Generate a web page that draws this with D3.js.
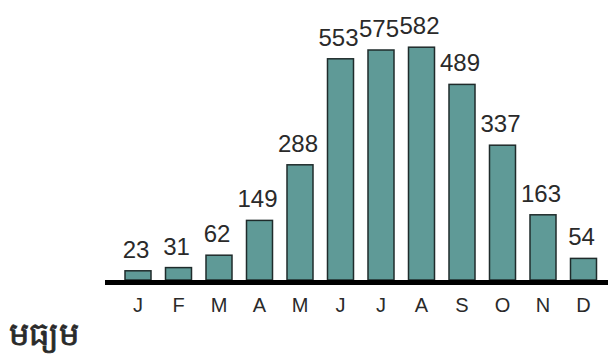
<!DOCTYPE html>
<html>
<head>
<meta charset="utf-8">
<script src="https://cdn.jsdelivr.net/npm/d3@7"></script>
<style>
  html,body{margin:0;padding:0;background:#fff;}
  svg{display:block;}
</style>
</head>
<body>
<div id="chart"></div>
<script>
(function(){
'use strict';

const months=['J','F','M','A','M','J','J','A','S','O','N','D'];
const rainfall=[23,31,62,149,288,553,575,582,489,337,163,54];
const caption='មធ្យម';

const W=608,H=358;
const BAR_FILL='#5f9a97',BAR_STROKE='#1f2b2b',TEXT='#2a2a2a';

const svg=d3.select('#chart').append('svg')
  .attr('width',W).attr('height',H);

const keys=months.map((m,i)=>i);
const x=d3.scaleBand().domain(keys).range([125,596.5])
  .paddingInner(0.358).paddingOuter(0);
const y=d3.scaleLinear().domain([0,600]).range([280,40]);

// Bars
svg.selectAll('.bar').data(rainfall).enter().append('rect')
  .attr('x',(d,i)=>x(i))
  .attr('y',d=>y(d))
  .attr('width',x.bandwidth())
  .attr('height',d=>y(0)-y(d))
  .attr('fill',BAR_FILL)
  .attr('stroke',BAR_STROKE).attr('stroke-width',1.5);

// Value labels
svg.selectAll('.val').data(rainfall).enter().append('text')
  .attr('x',(d,i)=>x(i)+x.bandwidth()/2-2)
  .attr('y',d=>y(d)-13)
  .attr('text-anchor','middle').attr('fill',TEXT)
  .style('font-family','Liberation Sans, Arial, sans-serif')
  .style('font-size','24px')
  .text(d=>d);

// Baseline axis
const axis=svg.append('g').attr('transform','translate(0,282.5)')
  .call(d3.axisBottom(x).tickSize(0).tickPadding(15).tickFormat(i=>months[i]));
axis.select('.domain').attr('d','M105,0H608').attr('stroke','#000').attr('stroke-width',5);
axis.selectAll('text').attr('fill',TEXT)
  .style('font-family','Liberation Sans, Arial, sans-serif')
  .style('font-size','20px');

// Caption
svg.append('text').attr('x',9).attr('y',345)
  .attr('fill',TEXT).attr('stroke',TEXT).attr('stroke-width',0.8)
  .style('font-family','"Noto Sans", sans-serif')
  .style('font-size','32px')
  .text(caption);

})();
</script>
</body>
</html>
